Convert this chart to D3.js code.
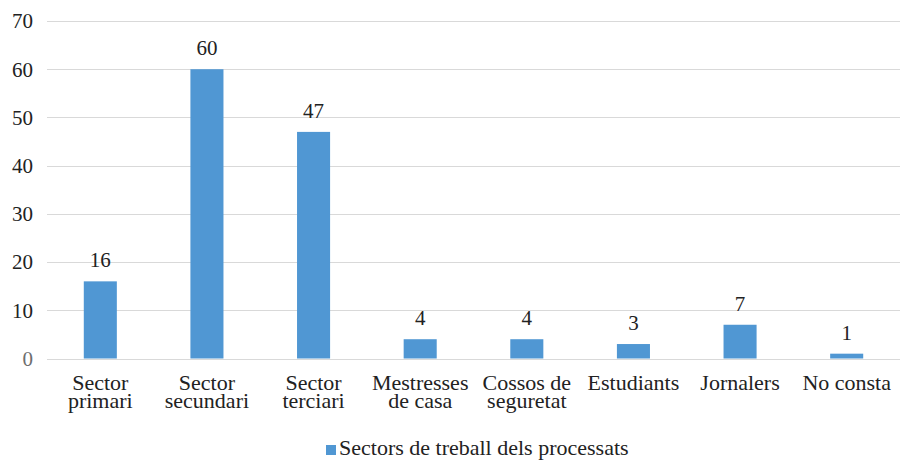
<!DOCTYPE html>
<html><head><meta charset="utf-8"><script src="https://cdn.jsdelivr.net/npm/d3@7"></script></head>
<body style="margin:0">
<svg id="fig" width="902" height="460"></svg>
<script>
// Work sectors of the prosecuted
const categories = [
  ["Sector", "primari"],
  ["Sector", "secundari"],
  ["Sector", "terciari"],
  ["Mestresses", "de casa"],
  ["Cossos de", "seguretat"],
  ["Estudiants"],
  ["Jornalers"],
  ["No consta"]
];
const values = [16, 60, 47, 4, 4, 3, 7, 1];
const yTicks = [0, 10, 20, 30, 40, 50, 60, 70];
const seriesName = "Sectors de treball dels processats";

const serif = "'Liberation Serif'";
const svg = d3.select("#fig");
const margin = { left: 47, right: 2, top: 21, bottom: 102 };
const W = 902, H = 460;

// apply the serif face to a text selection
function face(sel, size) {
  sel.attr("font-family", serif)
     .attr("font-size", size)
     .style("font-family", serif, "important")
     .style("font-size", size + "px");
}

const x = d3.scaleBand()
  .domain(d3.range(categories.length))
  .range([margin.left, W - margin.right])
  .paddingInner(0.69)
  .paddingOuter(0.345);

const y = d3.scaleLinear()
  .domain([0, 70])
  .range([H - margin.bottom + 0.5, margin.top]);

// gridlines
svg.append("g")
  .selectAll("line")
  .data(yTicks)
  .join("line")
  .attr("x1", margin.left)
  .attr("x2", W - margin.right)
  .attr("y1", d => Math.round(y(d)) + 0.5)
  .attr("y2", d => Math.round(y(d)) + 0.5)
  .attr("stroke", "#d9d9d9")
  .attr("stroke-width", 1);

// y tick labels, right-aligned left of the plot
svg.append("g")
  .selectAll("text")
  .data(yTicks)
  .join("text")
  .attr("x", 33)
  .attr("y", d => y(d))
  .attr("dy", "0.35em")
  .attr("text-anchor", "end")
  .attr("fill", d => d === 0 ? "#6e6e6e" : "#222")
  .text(d => d)
  .call(face, 21);

// bars
svg.append("g")
  .selectAll("rect")
  .data(values)
  .join("rect")
  .attr("x", (d, i) => x(i))
  .attr("width", x.bandwidth())
  .attr("y", d => y(d))
  .attr("height", d => y(0) - y(d))
  .attr("fill", "#5097d3");

// value labels
svg.append("g")
  .selectAll("text")
  .data(values)
  .join("text")
  .attr("x", (d, i) => x(i) + x.bandwidth() / 2)
  .attr("y", d => y(d) - 14)
  .attr("text-anchor", "middle")
  .attr("fill", "#222")
  .text(d => d)
  .call(face, 21);

// category labels, one text per line
const catLines = categories.flatMap((lines, i) => lines.map((t, j) => ({ t, i, j })));
svg.append("g")
  .selectAll("text")
  .data(catLines)
  .join("text")
  .attr("x", d => x(d.i) + x.bandwidth() / 2)
  .attr("y", d => 390 + d.j * 17.5)
  .attr("text-anchor", "middle")
  .attr("fill", "#222")
  .text(d => d.t)
  .call(face, 22);

// legend
const leg = svg.append("g");
leg.append("rect")
  .attr("x", 326).attr("y", 445)
  .attr("width", 10).attr("height", 10)
  .attr("fill", "#5097d3");
leg.append("text")
  .attr("x", 339).attr("y", 455)
  .attr("fill", "#222")
  .text(seriesName)
  .call(face, 22);
</script></body></html>
